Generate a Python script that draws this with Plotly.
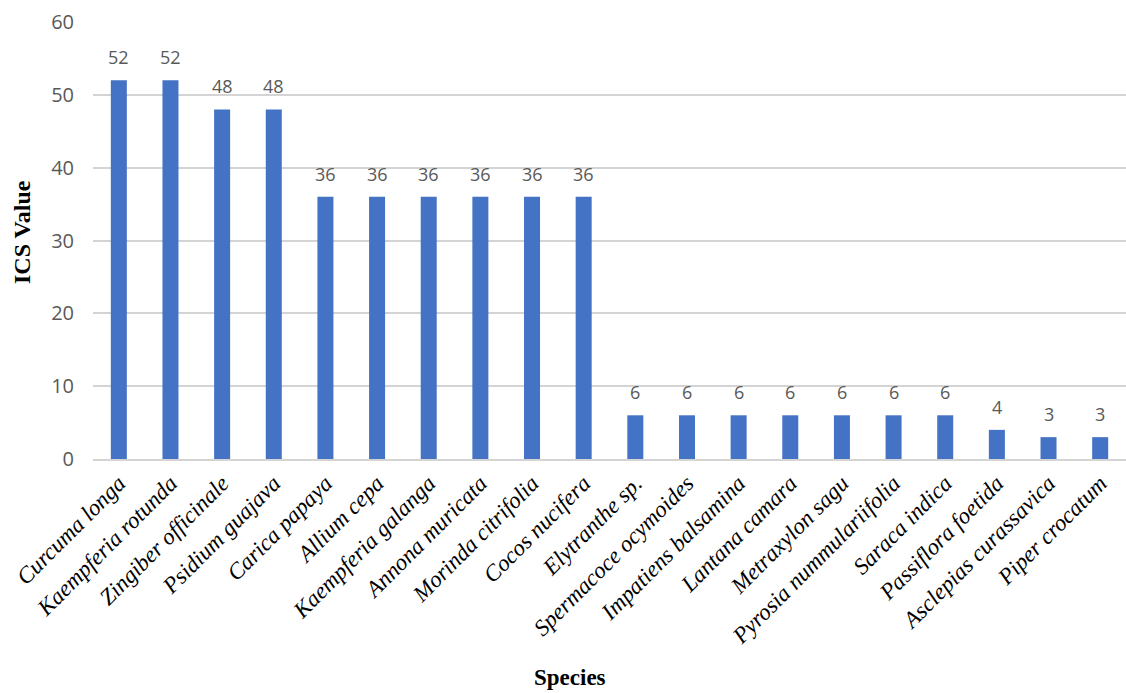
import plotly.graph_objects as go

species = [
    "Curcuma longa", "Kaempferia rotunda", "Zingiber officinale", "Psidium guajava",
    "Carica papaya", "Allium cepa", "Kaempferia galanga", "Annona muricata",
    "Morinda citrifolia", "Cocos nucifera", "Elytranthe sp.", "Spermacoce ocymoides",
    "Impatiens balsamina", "Lantana camara", "Metraxylon sagu", "Pyrosia nummulariifolia",
    "Saraca indica", "Passiflora foetida", "Asclepias curassavica", "Piper crocatum",
]
ics_values = [52, 52, 48, 48, 36, 36, 36, 36, 36, 36, 6, 6, 6, 6, 6, 6, 6, 4, 3, 3]
y_ticks = [0, 10, 20, 30, 40, 50, 60]

tick_text = ["<i>" + name + "</i>" for name in species]

fig = go.Figure(
    go.Bar(
        x=species,
        y=ics_values,
        marker=dict(color="#4472C4", line=dict(width=0)),
        width=0.31,
        cliponaxis=False,
    )
)

# Value labels above each bar
for name, val in zip(species, ics_values):
    fig.add_annotation(
        x=name, y=val, text=str(val), showarrow=False,
        yanchor="middle", yshift=23,
        font=dict(family="Open Sans, sans-serif", size=18, color="#595959"),
    )

fig.update_layout(
    width=1126,
    height=693,
    margin=dict(l=93, r=0, t=22, b=234),
    plot_bgcolor="white",
    paper_bgcolor="white",
    showlegend=False,
    xaxis=dict(
        tickmode="array",
        tickvals=species,
        ticktext=tick_text,
        tickangle=-45,
        tickfont=dict(family="Liberation Serif, serif", size=23, color="#000000"),
        showgrid=False,
        showline=True,
        linecolor="#D4D4D4",
        linewidth=1.5,
        ticks="",
    ),
    yaxis=dict(
        range=[0, 60],
        tickvals=y_ticks,
        tickfont=dict(family="Open Sans, sans-serif", size=20, color="#595959"),
        showgrid=True,
        gridcolor="#D4D4D4",
        gridwidth=1.5,
        zeroline=False,
        showline=False,
        ticks="",
        ticklabelstandoff=18,
    ),
    annotations=list(fig.layout.annotations) + [
        dict(
            text="<b>ICS Value</b>", xref="paper", yref="paper",
            x=-93 / 1033 + 22 / 1033, y=(459 - 232) / 437, textangle=-90,
            showarrow=False, xanchor="center", yanchor="middle",
            font=dict(family="Liberation Serif, serif", size=24, color="#000000"),
        ),
        dict(
            text="<b>Species</b>", xref="paper", yref="paper",
            x=(570 - 93) / 1033, y=-(677 - 459) / 437,
            showarrow=False, xanchor="center", yanchor="middle",
            font=dict(family="Liberation Serif, serif", size=23, color="#000000"),
        ),
    ],
)

fig.write_html("out.html")
